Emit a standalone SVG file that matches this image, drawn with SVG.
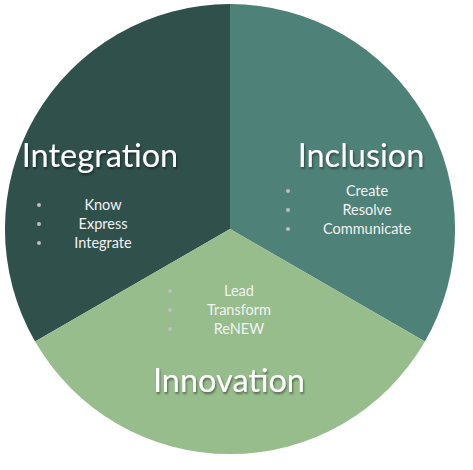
<svg xmlns="http://www.w3.org/2000/svg" width="473" height="470" viewBox="0 0 473 470">
<style>
.title{font-family:Lato,"Open Sans",sans-serif;font-size:32.5px;fill:#ffffff;text-anchor:middle}
.item{font-family:Lato,"Open Sans",sans-serif;font-size:14.5px;fill:#f2f2f2;text-anchor:middle}
.bul{fill:#bfbfbf}
</style>
<defs>
<filter id="sh" x="-20%" y="-20%" width="140%" height="160%">
<feDropShadow dx="1" dy="2" stdDeviation="1.2" flood-color="#000" flood-opacity="0.45"/>
</filter>
</defs>
<rect width="473" height="470" fill="#ffffff"/>
<g id="integration">
<path d="M230,229 L230,4 A225,225 0 0 0 35.1,341.5 Z" fill="#30504c"/>
<text class="title" x="100" y="167" filter="url(#sh)">Integration</text>
<circle class="bul" cx="39" cy="205" r="2"/><text class="item" x="103" y="210">Know</text>
<circle class="bul" cx="39" cy="224" r="2"/><text class="item" x="103" y="229">Express</text>
<circle class="bul" cx="39" cy="243" r="2"/><text class="item" x="103" y="248">Integrate</text>
</g>
<g id="inclusion">
<path d="M230,229 L230,4 A225,225 0 0 1 424.9,341.5 Z" fill="#4e8177"/>
<text class="title" x="361" y="167" filter="url(#sh)">Inclusion</text>
<circle class="bul" cx="288" cy="191" r="2"/><text class="item" x="367" y="196">Create</text>
<circle class="bul" cx="288" cy="210" r="2"/><text class="item" x="367" y="215">Resolve</text>
<circle class="bul" cx="288" cy="229" r="2"/><text class="item" x="367" y="234">Communicate</text>
</g>
<g id="innovation">
<path d="M230,229 L424.9,341.5 A225,225 0 0 1 35.1,341.5 Z" fill="#97bd8c"/>
<text class="title" x="229" y="392" filter="url(#sh)">Innovation</text>
<circle class="bul" cx="170" cy="291" r="2"/><text class="item" x="239" y="296">Lead</text>
<circle class="bul" cx="170" cy="310" r="2"/><text class="item" x="239" y="315">Transform</text>
<circle class="bul" cx="170" cy="329" r="2"/><text class="item" x="239" y="334">ReNEW</text>
</g>
<g id="connectors"></g>
</svg>
